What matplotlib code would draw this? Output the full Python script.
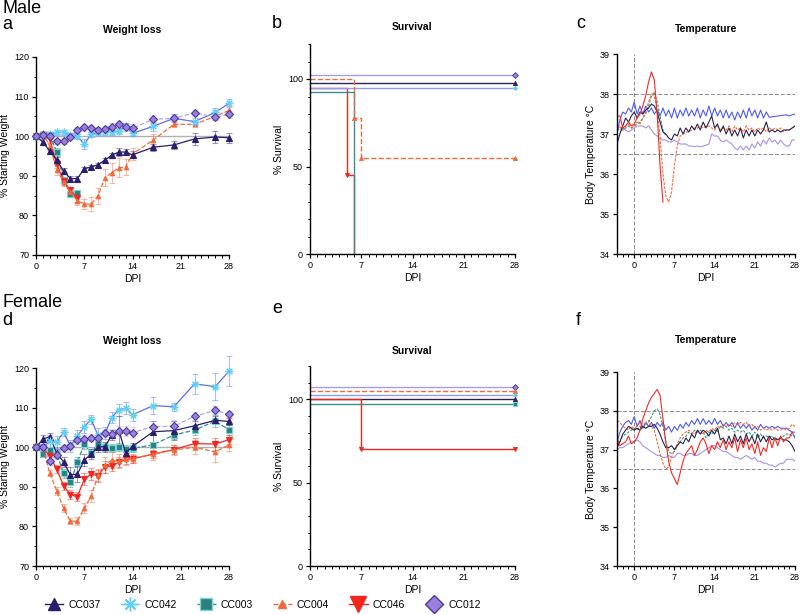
import matplotlib

matplotlib.use("Agg")
import matplotlib.pyplot as plt  # noqa: E402
import numpy as np  # noqa: E402
from matplotlib.lines import Line2D  # noqa: E402
from matplotlib.ticker import MultipleLocator  # noqa: E402

plt.rcParams["font.family"] = ["Liberation Sans", "DejaVu Sans"]

STRAINS = ["CC037", "CC042", "CC003", "CC004", "CC046", "CC012"]

# ---- weight loss (% starting weight), mean and SEM -------------------------
weight_days = [0, 1, 2, 3, 4, 5, 6, 7, 8, 9, 10, 11, 12, 13, 14, 17, 20, 23, 26, 28]

weight_male = {
    "CC037": [100, 98.5, 96.2, 94.0, 91.2, 89.3, 89.3, 91.8, 92.2, 92.8, 94.0, 95.2, 96.0, 96.0, 95.3, 97.2, 97.8, 99.3, 99.8, 99.6],
    "CC042": [100, 100.5, 100.5, 101.0, 101.0, 100.3, 100.0, 98.0, 100.5, 101.0, 101.0, 101.0, 101.3, 102.5, 100.7, 102.5, 104.5, 103.7, 106.0, 108.3],
    "CC003": [100, 100.2, 100.2, 96.0, 89.0, 85.3, 85.6],
    "CC004": [100, 100.8, 97.5, 91.5, 88.5, 86.0, 83.7, 82.9, 82.8, 85.0, 89.5, 90.8, 92.0, 92.2, 95.5, 99.0, 103.0, 103.0, 105.0, 106.5],
    "CC046": [100, 100.3, 99.2, 93.0, 88.8, 86.3, 84.5],
    "CC012": [100, 100.3, 100.0, 98.7, 98.8, 99.8, 101.5, 102.3, 102.0, 101.6, 101.9, 102.4, 103.0, 102.3, 102.0, 104.3, 104.5, 105.9, 104.8, 105.5],
}
weight_male_err = {
    "CC037": [0.3, 0.8, 0.6, 0.7, 0.8, 0.7, 0.6, 0.5, 0.5, 0.5, 0.6, 0.6, 1.0, 0.7, 0.9, 0.9, 1.0, 1.5, 1.5, 1.2],
    "CC042": [0.3, 0.6, 0.5, 0.6, 0.6, 0.6, 0.7, 1.2, 0.6, 0.6, 0.7, 0.6, 0.7, 0.8, 0.6, 1.2, 1.0, 0.8, 1.0, 1.0],
    "CC003": [0.3, 0.5, 0.6, 1.0, 0.8, 0.7, 0.6],
    "CC004": [0.3, 0.6, 1.0, 1.2, 1.0, 1.0, 1.0, 1.2, 1.8, 2.0, 2.2, 2.5, 2.4, 2.0, 1.5, 1.5, 0.8, 0.8, 1.0, 1.0],
    "CC046": [0.3, 0.5, 0.8, 1.0, 1.0, 0.8, 1.0],
    "CC012": [0.3, 0.6, 0.6, 0.7, 0.7, 0.7, 0.9, 0.9, 0.8, 0.8, 0.8, 0.9, 0.9, 1.0, 1.0, 1.0, 1.0, 0.8, 0.8, 0.8],
}

weight_female = {
    "CC037": [100, 102.0, 102.7, 98.5, 96.3, 93.0, 93.2, 96.7, 98.3, 100.1, 100.1, 103.1, 104.3, 98.6, 100.2, 103.9, 104.2, 105.4, 106.8, 106.5],
    "CC042": [100, 100.0, 101.5, 101.3, 103.8, 100.3, 102.8, 105.2, 107.0, 103.0, 103.5, 107.5, 109.5, 109.8, 108.2, 110.5, 110.2, 116.0, 115.3, 119.2],
    "CC003": [100, 98.3, 99.2, 98.3, 93.4, 91.1, 96.2, 100.8, 98.5, 100.8, 100.1, 99.9, 100.1, 99.6, 99.7, 100.6, 103.1, 104.3, 106.6, 104.4],
    "CC004": [100, 99.7, 93.5, 89.0, 84.6, 81.3, 81.3, 84.6, 87.6, 93.0, 95.5, 96.7, 96.5, 97.0, 97.1, 98.3, 99.3, 100.0, 98.8, 100.6],
    "CC046": [100, 99.8, 97.8, 94.4, 90.3, 88.0, 87.5, 91.9, 93.2, 92.8, 95.1, 95.2, 96.2, 96.9, 97.1, 98.2, 99.4, 100.9, 100.8, 101.9],
    "CC012": [100, 100.0, 96.6, 98.0, 99.8, 100.2, 101.7, 102.0, 102.4, 102.2, 103.5, 103.4, 104.1, 104.1, 103.7, 105.2, 105.3, 107.8, 109.3, 108.3],
}
weight_female_err = {
    "CC037": [0.3, 1.2, 0.8, 1.0, 1.2, 2.0, 2.0, 1.5, 1.2, 1.2, 1.2, 1.2, 3.5, 1.0, 0.8, 2.8, 2.5, 1.2, 1.0, 1.0],
    "CC042": [0.3, 0.8, 1.5, 1.5, 1.0, 1.5, 1.5, 1.5, 1.2, 1.8, 1.5, 1.5, 1.5, 1.5, 1.5, 2.2, 1.0, 2.5, 3.5, 3.8],
    "CC003": [0.3, 0.5, 0.8, 1.0, 1.2, 1.2, 1.2, 1.2, 1.0, 1.0, 1.0, 1.0, 1.0, 1.0, 0.9, 0.8, 1.0, 1.2, 1.5, 1.2],
    "CC004": [0.3, 0.6, 0.8, 1.0, 1.0, 0.8, 1.0, 1.2, 1.5, 1.5, 2.0, 2.0, 1.8, 1.5, 1.2, 1.5, 1.2, 1.8, 2.5, 1.5],
    "CC046": [0.3, 0.6, 0.8, 1.0, 1.0, 1.2, 1.2, 1.5, 1.5, 1.5, 1.5, 1.2, 1.2, 1.2, 1.0, 1.0, 1.2, 1.5, 1.5, 1.2],
    "CC012": [0.3, 0.8, 1.0, 1.0, 1.0, 1.0, 1.0, 1.0, 0.9, 1.0, 1.0, 1.2, 1.2, 1.2, 1.5, 1.5, 1.5, 1.0, 1.0, 0.9],
}

# ---- survival (Kaplan-Meier steps, Prism-offset levels) ---------------------
surv_male_t = {"CC046": [0, 5, 6], "CC012": [0, 28], "CC037": [0, 28], "CC042": [0, 28], "CC003": [0, 6],
               "CC004": [0, 6, 7, 28]}
surv_male_v = {"CC046": [95, 45, 0], "CC012": [102.5, 102.5], "CC037": [97.5, 97.5], "CC042": [95, 95],
               "CC003": [92.5, 0], "CC004": [100, 77.5, 55, 55]}
surv_female_t = {"CC012": [0, 28], "CC004": [0, 28], "CC042": [0, 28], "CC037": [0, 28],
                 "CC003": [0, 28], "CC046": [0, 7, 28]}
surv_female_v = {"CC012": [107.5, 107.5], "CC004": [105, 105], "CC042": [102.5, 102.5], "CC037": [100, 100],
                 "CC003": [97.5, 97.5], "CC046": [100, 70, 70]}

# ---- body temperature, half-day readings starting at DPI -3 -----------------
temp_male = {
    "CC042": [37.00, 37.35, 37.55, 37.50, 37.65, 37.55, 37.80, 37.50,
              37.70, 37.50, 37.70, 37.55, 37.65, 37.50, 37.60, 37.45,
              37.65, 37.45, 37.60, 37.40, 37.65, 37.40, 37.60, 37.45,
              37.65, 37.45, 37.60, 37.45, 37.65, 37.40, 37.60, 37.45,
              37.70, 37.45, 37.65, 37.45, 37.60, 37.40, 37.60, 37.40,
              37.55, 37.35, 37.55, 37.40, 37.60, 37.40, 37.65, 37.45,
              37.60, 37.40, 37.60, 37.40, 37.55, 37.42, 37.43, 37.44,
              37.45, 37.46, 37.47, 37.48, 37.45, 37.48, 37.50],
    "CC037": [36.75, 37.00, 37.20, 37.40, 37.30, 37.45, 37.55, 37.40,
              37.55, 37.50, 37.60, 37.65, 37.75, 37.70, 37.55, 37.30,
              37.05, 37.00, 36.90, 36.85, 37.00, 36.95, 37.15, 37.00,
              37.15, 37.05, 37.20, 37.10, 37.25, 37.10, 37.30, 37.15,
              37.30, 37.45, 37.15, 37.25, 37.05, 37.20, 37.00, 37.15,
              36.95, 37.10, 36.95, 37.15, 36.90, 37.10, 36.95, 37.10,
              36.95, 37.10, 37.00, 37.10, 37.30, 37.05, 37.10, 37.05,
              37.10, 37.05, 37.10, 37.10, 37.10, 37.15, 37.20],
    "CC012": [37.20, 37.15, 37.15, 37.10, 37.05, 37.10, 37.15, 37.20,
              37.20, 37.20, 37.15, 37.20, 37.10, 37.00, 36.95, 36.90,
              36.85, 36.85, 36.80, 36.80, 36.85, 36.80, 36.75, 36.75,
              36.75, 36.70, 36.70, 36.68, 36.70, 36.68, 36.70, 36.72,
              36.75, 37.00, 36.95, 36.95, 36.85, 36.80, 36.85, 36.80,
              36.75, 36.65, 36.60, 36.70, 36.60, 36.70, 36.60, 36.75,
              36.65, 36.80, 36.70, 36.85, 36.75, 36.90, 36.80, 36.85,
              36.75, 36.85, 36.75, 36.70, 36.70, 36.85, 36.85],
    "CC004": [37.25, 37.20, 37.10, 37.20, 37.25, 37.15, 37.20, 37.30,
              37.25, 37.40, 37.55, 37.80, 38.00, 37.95, 37.60, 36.90,
              36.00, 35.45, 35.30, 35.55, 36.20, 36.70, 36.95, 37.00,
              37.05, 37.05, 37.10, 37.15, 37.15, 37.20, 37.15, 37.20,
              37.20, 37.15, 37.10, 37.20, 37.10, 37.15, 37.10, 37.20,
              37.05, 37.20, 37.10, 37.15, 37.05, 37.20, 37.10, 37.15,
              37.05, 37.15, 37.10, 37.15, 37.05, 37.15, 37.10, 37.15,
              37.10, 37.15, 37.05, 37.10, 37.10, 37.15, 37.20],
    "CC003": [37.15, 37.10, 37.10, 37.15, 37.20, 37.15, 37.20, 37.25,
              37.30, 37.40, 37.50, 37.70, 37.95, 38.05, 37.80, 37.45,
              37.10, 36.95],
    "CC046": [37.45, 37.45, 37.15, 37.20, 37.30, 37.20, 37.25, 37.40,
              37.50, 37.70, 37.95, 38.30, 38.55, 38.35, 37.50, 36.20,
              35.30],
}
temp_female = {
    "CC042": [37.20, 37.45, 37.60, 37.70, 37.75, 37.65, 37.85, 37.60,
              37.75, 37.55, 37.70, 37.60, 37.70, 37.55, 37.70, 37.60,
              37.70, 37.50, 37.60, 37.45, 37.60, 37.50, 37.65, 37.55,
              37.70, 37.60, 37.75, 37.65, 37.80, 37.65, 37.80, 37.65,
              37.75, 37.65, 37.80, 37.65, 37.75, 37.60, 37.70, 37.60,
              37.70, 37.55, 37.70, 37.55, 37.65, 37.55, 37.65, 37.50,
              37.60, 37.50, 37.65, 37.55, 37.60, 37.55, 37.60, 37.55,
              37.60, 37.55, 37.55, 37.55, 37.50, 37.45, 37.30],
    "CC012": [37.00, 37.05, 37.05, 37.10, 37.15, 37.20, 37.20, 37.25,
              37.20, 37.10, 37.05, 37.00, 36.95, 36.90, 36.85, 36.85,
              36.80, 36.80, 36.85, 36.80, 36.80, 36.90, 36.90, 36.85,
              36.85, 36.90, 36.90, 36.85, 36.85, 36.90, 36.95, 37.00,
              37.05, 37.10, 37.10, 37.05, 37.00, 36.95, 36.95, 36.90,
              36.85, 36.80, 36.80, 36.75, 36.80, 36.85, 36.80, 36.75,
              36.80, 36.70, 36.70, 36.65, 36.65, 36.60, 36.60, 36.55,
              36.60, 36.65, 36.65, 36.75, 36.75, 36.75, 36.70],
    "CC004": [37.75, 37.70, 37.60, 37.55, 37.50, 37.60, 37.55, 37.60,
              37.70, 37.65, 37.70, 37.75, 37.60, 37.50, 37.20, 36.90,
              36.65, 36.50, 36.55, 36.80, 37.00, 37.15, 37.30, 37.40,
              37.45, 37.50, 37.45, 37.40, 37.50, 37.45, 37.40, 37.50,
              37.45, 37.55, 37.50, 37.60, 37.55, 37.65, 37.60, 37.65,
              37.60, 37.70, 37.65, 37.70, 37.65, 37.70, 37.60, 37.65,
              37.55, 37.60, 37.50, 37.55, 37.50, 37.55, 37.50, 37.55,
              37.50, 37.50, 37.55, 37.50, 37.55, 37.65, 37.60],
    "CC003": [37.10, 37.20, 37.35, 37.40, 37.45, 37.50, 37.55, 37.50,
              37.60, 37.55, 37.65, 37.70, 37.85, 38.00, 38.05, 37.90,
              37.60, 37.20, 36.95, 36.90, 36.95, 37.10, 37.20, 37.30,
              37.35, 37.45, 37.40, 37.50, 37.45, 37.50, 37.45, 37.30,
              37.45, 37.40, 37.50, 37.45, 37.60, 37.55, 37.60, 37.50,
              37.55, 37.45, 37.50, 37.45, 37.50, 37.40, 37.45, 37.35,
              37.45, 37.30, 37.40, 37.30, 37.35, 37.30, 37.35, 37.25,
              37.30, 37.30, 37.35, 37.40, 37.40, 37.35, 37.35],
    "CC037": [37.05, 37.20, 37.40, 37.50, 37.60, 37.55, 37.50, 37.55,
              37.50, 37.60, 37.55, 37.60, 37.60, 37.65, 37.55, 37.40,
              37.20, 37.05, 37.05, 37.10, 37.00, 37.10, 37.20, 37.15,
              37.30, 37.20, 37.40, 37.30, 37.50, 37.40, 37.50, 37.45,
              37.35, 37.50, 37.40, 37.55, 37.25, 37.30, 37.15, 37.35,
              37.15, 37.40, 37.20, 37.35, 37.15, 37.40, 37.20, 37.35,
              37.15, 37.40, 37.20, 37.35, 37.20, 37.35, 37.25, 37.30,
              37.25, 37.30, 37.25, 37.25, 37.20, 37.10, 36.95],
    "CC046": [37.30, 37.10, 37.15, 37.20, 37.35, 37.15, 37.20, 37.30,
              37.50, 37.80, 38.00, 38.20, 38.35, 38.45, 38.55, 38.40,
              37.80, 37.20, 36.70, 36.40, 36.25, 36.10, 36.40, 36.70,
              36.90, 37.00, 37.10, 36.85, 37.00, 37.20, 37.30, 37.15,
              36.90, 37.10, 37.00, 37.20, 37.05, 37.25, 37.00, 37.20,
              37.05, 37.30, 36.95, 37.25, 37.05, 37.30, 37.00, 37.15,
              36.90, 37.20, 36.85, 37.05, 36.95, 37.30, 37.05, 37.30,
              37.10, 37.35, 37.20, 37.30, 37.30, 37.45, 37.45],
}
TEMP_START, TEMP_STEP = -3.0, 0.5

# ---- styling -------------------------------------------------------------------
STYLE = {
    "CC037": dict(line="#2b1d6b", face="#2b1d6b", edge="#2b1d6b", marker="^", ms=4.2, ls="-"),
    "CC042": dict(line="#5a6ff0", face="#5fcff5", edge="#5fcff5", marker=(8, 2, 0), ms=5.5, ls="-"),
    "CC003": dict(line="#2f8f8c", face="#2f7f7c", edge="#70d8d8", marker="s", ms=4.5, ls="--"),
    "CC004": dict(line="#f26a3c", face="#f26a3c", edge="#f26a3c", marker="^", ms=3.2, ls="--"),
    "CC046": dict(line="#f2261e", face="#f2261e", edge="#f2261e", marker="v", ms=4.2, ls="-"),
    "CC012": dict(line="#b4a4f0", face="#9a80dc", edge="#4b3a9a", marker="D", ms=4.5, ls="--"),
}
TEMP_COLOR = {"CC042": "#4d5cf2", "CC037": "#2b2450", "CC046": "#f52a22",
              "CC004": "#f56a3a", "CC003": "#3a9a8a", "CC012": "#a592ec"}
SURV_COLOR = {"CC012": "#a89cf0", "CC037": "#2b2450", "CC042": "#8e9ef5", "CC003": "#3a8f8c",
              "CC004": "#f26a3c", "CC046": "#f2261e"}

TICK_FS = 6.5
LABEL_FS = 7.5


def style_axes(ax):
    for s in ("top", "right"):
        ax.spines[s].set_visible(False)
    for s in ("left", "bottom"):
        ax.spines[s].set_linewidth(1.0)
    ax.tick_params(which="major", length=3, width=0.9, labelsize=TICK_FS, pad=2)
    ax.tick_params(which="minor", length=1.8, width=0.7)
    ax.xaxis.set_major_locator(MultipleLocator(7))
    ax.xaxis.set_minor_locator(MultipleLocator(1))


def weight_panel(ax, data, err):
    ax.axhline(100, color="#b0b0b0", lw=1.0, zorder=1)
    for s in ["CC003", "CC046", "CC004", "CC037", "CC042", "CC012"]:
        st = STYLE[s]
        y = data[s]
        x = weight_days[: len(y)]
        ax.errorbar(x, y, yerr=err[s], fmt="none", ecolor=st["line"], alpha=0.45,
                    elinewidth=0.8, capsize=2, capthick=0.8, clip_on=False, zorder=2)
        ax.plot(x, y, color=st["line"], ls=st["ls"], lw=0.9, marker=st["marker"], ms=st["ms"],
                mfc=st["face"], mec=st["edge"], mew=0.8, clip_on=False, zorder=3)
    ax.set_xlim(0, 28)
    ax.set_ylim(70, 120)
    ax.yaxis.set_major_locator(MultipleLocator(10))
    ax.yaxis.set_minor_locator(MultipleLocator(5))
    style_axes(ax)
    ax.set_ylabel("% Starting Weight", fontsize=LABEL_FS, labelpad=3)
    ax.set_xlabel("DPI", fontsize=LABEL_FS, labelpad=2)


def survival_panel(ax, times, vals):
    for s in times:
        t, v = times[s], vals[s]
        st = STYLE[s]
        col = SURV_COLOR[s]
        ls = "--" if s == "CC004" else "-"
        ax.step(t, v, where="post", color=col, ls=ls, lw=1.0, clip_on=False, zorder=2)
        # markers at each event and at the end of follow-up
        mx = [tt for tt, vv in zip(t[1:], v[1:]) if vv > 0]
        my = [vv for vv in v[1:] if vv > 0]
        ax.plot(mx, my, ls="none", marker=st["marker"], ms=3, mfc=st["face"], mec=st["edge"],
                mew=0.6, clip_on=False, zorder=3)
    ax.set_xlim(0, 28)
    ax.set_ylim(0, 120)
    ax.yaxis.set_major_locator(MultipleLocator(50))
    ax.yaxis.set_minor_locator(MultipleLocator(10))
    style_axes(ax)
    ax.set_yticks([0, 50, 100])
    ax.set_ylabel("% Survival", fontsize=LABEL_FS, labelpad=3)
    ax.set_xlabel("DPI", fontsize=LABEL_FS, labelpad=2)


def temp_panel(ax, data):
    ax.axhline(38, color="#8a8a8a", lw=0.7, ls=(0, (4, 2)), zorder=1)
    ax.axhline(36.5, color="#8a8a8a", lw=0.7, ls=(0, (4, 2)), zorder=1)
    ax.axvline(0, color="#8a8a8a", lw=0.7, ls=(0, (4, 2)), zorder=1)
    for s in ["CC012", "CC042", "CC003", "CC004", "CC037", "CC046"]:
        y = data[s]
        x = TEMP_START + TEMP_STEP * np.arange(len(y))
        ls = (0, (2.5, 1.2)) if s in ("CC003", "CC004") else "-"
        ax.plot(x, y, color=TEMP_COLOR[s], lw=0.8, ls=ls, zorder=2)
    ax.set_xlim(-3, 28)
    ax.set_ylim(34, 39)
    ax.set_xticks([0, 7, 14, 21, 28])
    ax.yaxis.set_major_locator(MultipleLocator(1))
    style_axes(ax)
    ax.set_ylabel("Body Temperature °C", fontsize=LABEL_FS, labelpad=3)
    ax.set_xlabel("DPI", fontsize=LABEL_FS, labelpad=2)


W, H = 800, 615
fig = plt.figure(figsize=(W / 100, H / 100), dpi=100)


def add_ax(left, top, right, bottom):
    return fig.add_axes([left / W, 1 - bottom / H, (right - left) / W, (bottom - top) / H])


ax_a = add_ax(36, 57, 229, 255)
ax_b = add_ax(310, 44, 515, 254)
ax_c = add_ax(617, 54, 795, 254)
ax_d = add_ax(36, 368, 229, 566)
ax_e = add_ax(310, 366, 515, 566)
ax_f = add_ax(617, 372, 795, 566)

weight_panel(ax_a, weight_male, weight_male_err)
survival_panel(ax_b, surv_male_t, surv_male_v)
temp_panel(ax_c, temp_male)
weight_panel(ax_d, weight_female, weight_female_err)
survival_panel(ax_e, surv_female_t, surv_female_v)
temp_panel(ax_f, temp_female)

# panel titles and letters
titles = [(132, 33, "Weight loss"), (412, 30, "Survival"), (706, 32, "Temperature"),
          (132, 344, "Weight loss"), (412, 354, "Survival"), (706, 343, "Temperature")]
for x, y, t in titles:
    fig.text(x / W, 1 - y / H, t, ha="center", va="baseline", fontsize=7.5, fontweight="bold")

letters = [(2, 13, "Male"), (2, 29, "a"), (272, 28, "b"), (576, 28, "c"),
           (2, 307, "Female"), (2, 325, "d"), (272, 313, "e"), (576, 325, "f")]
for x, y, t in letters:
    fig.text(x / W, 1 - y / H, t, ha="left", va="baseline", fontsize=13)

# shared legend along the bottom
leg_ms = {"CC037": 9, "CC042": 10, "CC003": 8, "CC004": 6, "CC046": 11, "CC012": 9}
handles = []
for s in STRAINS:
    st = STYLE[s]
    handles.append(Line2D([], [], color=st["line"] if s != "CC042" else st["face"], ls=st["ls"], lw=1.0,
                          marker=st["marker"], ms=leg_ms[s], mfc=st["face"], mec=st["edge"], mew=1.0))
fig.legend(handles, STRAINS, loc="center", bbox_to_anchor=(263 / W, 1 - 605 / H), ncol=6,
           frameon=False, fontsize=7.5, handlelength=1.8, handletextpad=0.5, columnspacing=1.9)

fig.savefig("out.png", dpi=100)
